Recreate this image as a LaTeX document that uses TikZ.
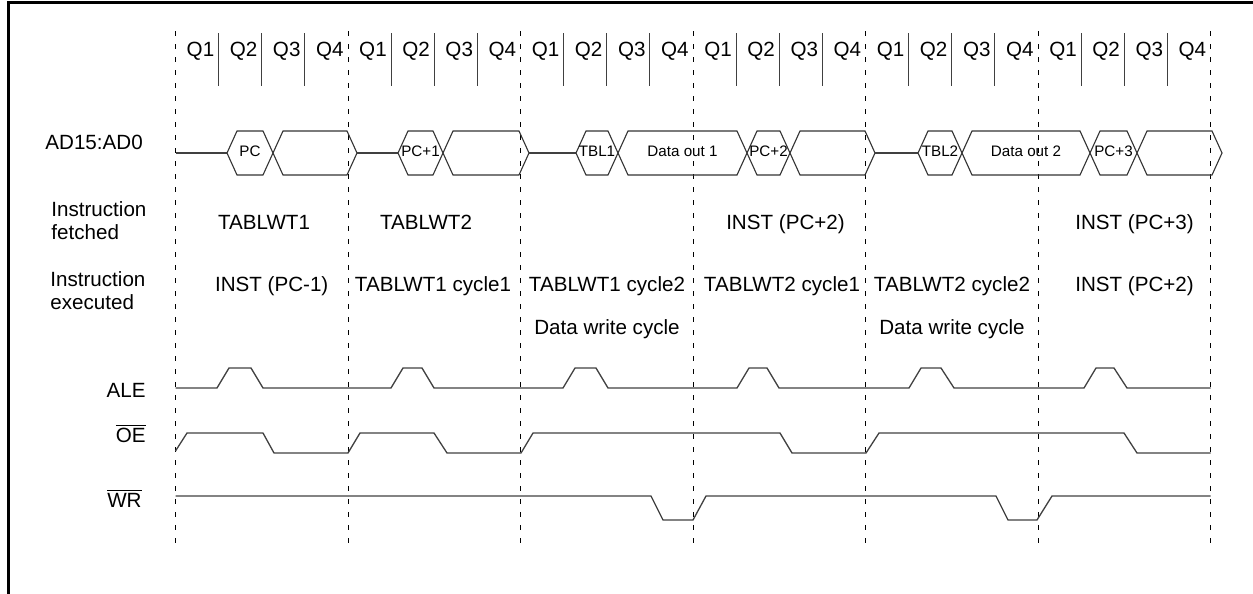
\documentclass[tikz,border=0pt]{standalone}
\usepackage{fontspec}
\setmainfont{Liberation Sans}
\usetikzlibrary{positioning, calc}

% bus segment: left x, right x, text, name
\newcommand{\busseg}[4]{%
  \draw[bus] (#1,153) -- (#1+10,131) -- (#2-10,131) -- (#2,153) -- (#2-10,175) -- (#1+10,175) -- cycle;
  \node[buslbl] (#4) at ({(#1+#2)/2},151) {#3};
}

\begin{document}
\begin{tikzpicture}[
  x=0.5pt, y=-0.5pt,
  guide/.style={draw=black, line width=0.5pt, dash pattern=on 2.5pt off 4pt},
  qsep/.style={draw=black!75, line width=0.6pt},
  wave/.style={draw=black!75, line width=0.65pt},
  bus/.style={draw=black!80, line width=0.55pt},
  lbl/.style={inner sep=0pt, font=\fontsize{10.3}{11.5}\selectfont},
  row/.style={lbl, text height=7.4pt, text depth=0pt},
  buslbl/.style={inner sep=0pt, text height=5.4pt, text depth=0pt, font=\fontsize{7.6}{9}\selectfont}
]
\useasboundingbox (0,0) rectangle (1253,594);

% Frame
\draw[line width=1.4pt] (8.5,594) -- (8.5,2.5) -- (1253,2.5);

% Cycle boundaries and quarters
\foreach \i in {0,...,6}
  \draw[guide] ({175.5+172.5*\i},31) -- ({175.5+172.5*\i},544);
\foreach \i in {0,...,5} {
  \foreach \k in {1,2,3}
    \draw[qsep] ({175.5+172.5*\i+43.125*\k},33) -- ++(0,53);
  \foreach \k in {1,...,4}
    \node[row, anchor=east] (q\i\k) at ({175.5+172.5*\i+43.125*\k-4},49.5) {Q\k};
}

% Signal names
\node[lbl, anchor=west] (ad) at (45,142) {AD15:AD0};
\node[lbl, anchor=west, align=left] (fetch) at (51,220.5) {Instruction\\fetched};
\node[lbl, anchor=west, align=left] (exec) at (50,290.5) {Instruction\\executed};
\node[row, anchor=east] (ale) at (146,390) {ALE};
\node[row, anchor=east] (oe) at (146,435) {$\overline{\mbox{OE}}$};
\node[row, anchor=east] (wr) at (142,499.7) {$\overline{\mbox{WR}}$};

% Address/data bus
\draw[wave] (175.5,153) -- (227,153);
\busseg{227}{273}{PC}{b1}
\busseg{273}{357}{}{b2}
\draw[wave] (357,153) -- (398,153);
\busseg{398}{443}{PC+1}{b3}
\busseg{443}{529}{}{b4}
\draw[wave] (529,153) -- (576,153);
\busseg{576}{618}{TBL1}{b5}
\busseg{618}{747}{Data out 1}{b6}
\busseg{747}{790}{PC+2}{b7}
\busseg{790}{875}{}{b8}
\draw[wave] (875,153) -- (918,153);
\busseg{918}{962}{TBL2}{b9}
\busseg{962}{1090}{Data out 2}{b10}
\busseg{1090}{1137}{PC+3}{b11}
\busseg{1137}{1222}{}{b12}

% Instruction fetched
\node[row] (f1) at (264,222.5) {TABLWT1};
\node[row] (f2) at (426,222.5) {TABLWT2};
\node[row] (f4) at (785.5,222.5) {INST (PC+2)};
\node[row] (f6) at (1134.5,222.5) {INST (PC+3)};

% Instruction executed
\node[row] (e1) at (271.7,284.3) {INST (PC-1)};
\node[row] (e2) at (433,284.3) {TABLWT1 cycle1};
\node[row] (e3) at (607,284.3) {TABLWT1 cycle2};
\node[row] (e4) at (782,284.3) {TABLWT2 cycle1};
\node[row] (e5) at (952,284.3) {TABLWT2 cycle2};
\node[row] (e6) at (1134.5,284.3) {INST (PC+2)};
\node[row] (d3) [below=14pt of e3.base] {Data write cycle};
\node[row] (d5) [below=14pt of e5.base] {Data write cycle};

% ALE
\draw[wave] (175.5,388) -- (217,388) -- (229,368) -- (251,368) -- (263,388)
  -- (391,388) -- (403,368) -- (422,368) -- (434,388)
  -- (563,388) -- (575,368) -- (596,368) -- (608,388)
  -- (737,388) -- (749,368) -- (767,368) -- (779,388)
  -- (909,388) -- (921,368) -- (941,368) -- (954,388)
  -- (1084,388) -- (1096,368) -- (1114,368) -- (1127,388) -- (1210.5,388);

% OE
\draw[wave] (175.5,451) -- (187,433) -- (263,433) -- (274,453)
  -- (348,453) -- (360,433) -- (434,433) -- (447,453)
  -- (521,453) -- (533,433) -- (780,433) -- (792,453)
  -- (866,453) -- (879,433) -- (1124,433) -- (1137,453) -- (1210.5,453);

% WR
\draw[wave] (175.5,496) -- (651,496) -- (663,520) -- (693,520) -- (706,496)
  -- (996,496) -- (1008,520) -- (1037,520) -- (1052,496) -- (1210.5,496);

\end{tikzpicture}
\end{document}
